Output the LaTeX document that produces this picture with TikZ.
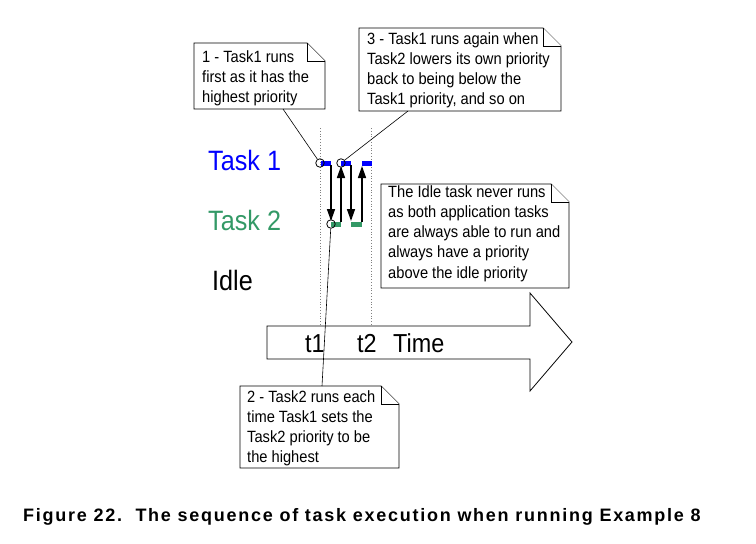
\documentclass[tikz,border=0pt]{standalone}
\usepackage{fontspec}
\setmainfont{Liberation Sans}
\newfontfamily\narrowfont[FakeStretch=0.9]{Liberation Sans}
\newfontfamily\capfont[LetterSpace=9.6]{Liberation Sans}
\usetikzlibrary{arrows.meta}
\definecolor{tblue}{RGB}{0,0,255}
\definecolor{tgreen}{RGB}{51,153,102}
\tikzset{
  note/.style={draw=black, line width=0.9pt, fill=white},
  notetext/.style={anchor=base west, align=left, inner sep=0pt, font=\narrowfont\fontsize{16.3}{20.3}\selectfont},
  bar/.style={line width=5pt},
  guide/.style={gray, dotted, line width=0.8pt},
  flow/.style={line width=1.5pt, -{Triangle[length=12pt,width=8pt]}},
  leader/.style={line width=0.6pt},
  ring/.style={circle, draw, line width=0.8pt, minimum size=8.5pt, inner sep=0pt},
  tasklabel/.style={anchor=base west, inner sep=0pt, font=\narrowfont\fontsize{28}{28}\selectfont},
  timelabel/.style={anchor=base west, inner sep=0pt, font=\narrowfont\fontsize{26}{26}\selectfont},
}
\newcommand\notebox[4]{%
  \draw[note] (#1,#2) -- ({#3-18},#2) -- (#3,{#2+18}) -- (#3,#4) -- (#1,#4) -- cycle;
  \draw[note] ({#3-18},#2) -- ({#3-18},{#2+18}) -- (#3,{#2+18});}
\begin{document}
\begin{tikzpicture}[x=1pt,y=-1pt]
\useasboundingbox (0,0) rectangle (756,544);
% guides
\coordinate (g1t) at (320,128); \coordinate (g1b) at (320,326);
\coordinate (g2t) at (371,128); \coordinate (g2b) at (371,326);
\draw[guide] (g1t) -- (g1b);
\draw[guide] (g2t) -- (g2b);
% time arrow
\draw[note, line width=0.8pt] (267,326) -- (530,326) -- (530,293) -- (572,342) -- (530,391) -- (530,359) -- (267,359) -- cycle;
\node[timelabel] (t1) at (305,352) {t1};
\node[timelabel] (t2) at (357,352) {t2};
\node[timelabel] (tm) at (393,352) {Time};
% task labels
\node[tasklabel, text=tblue] (lt1) at (208,170) {Task 1};
\node[tasklabel, text=tgreen] (lt2) at (208,230.5) {Task 2};
\node[tasklabel] (lid) at (212,290) {Idle};
% bars
\draw[bar, tblue] (321,163) -- (331,163);
\draw[bar, tblue] (341,163) -- (351,163);
\draw[bar, tblue] (362,163) -- (372,163);
\draw[bar, tgreen] (331,224) -- (341,224);
\draw[bar, tgreen] (351,224) -- (362,224);
% flow arrows
\coordinate (d1s) at (331,165); \coordinate (d1e) at (331,221);
\coordinate (u1s) at (341,222); \coordinate (u1e) at (341,166);
\coordinate (d2s) at (351,165); \coordinate (d2e) at (351,221);
\coordinate (u2s) at (362,222); \coordinate (u2e) at (362,166);
\draw[flow] (d1s) -- (d1e);
\draw[flow] (u1s) -- (u1e);
\draw[flow] (d2s) -- (d2e);
\draw[flow] (u2s) -- (u2e);
% rings
\node[ring] (c1) at (320,163) {};
\node[ring] (c2) at (341,163) {};
\node[ring] (c3) at (331,224) {};
% callout 1
\notebox{194}{43}{325}{109}
\node[notetext] (n1) at (202,102.6) {1 - Task1 runs\\first as it has the\\highest priority};
\coordinate (n1p) at (283,109);
\draw[leader] (n1p) -- (c1);
% callout 3
\notebox{359}{28}{561}{111}
\node[notetext] (n3) at (367,104.9) {3 - Task1 runs again when\\Task2 lowers its own priority\\back to being below the\\Task1 priority, and so on};
\coordinate (n3p) at (408,111);
\draw[leader] (n3p) -- (c2);
% idle callout
\notebox{381}{184}{569}{288}
\node[notetext] (ni) at (388,278.2) {The Idle task never runs\\as both application tasks\\are always able to run and\\always have a priority\\above the idle priority};
% callout 2
\notebox{240}{386}{399}{468}
\node[notetext] (n2) at (247,462.9) {2 - Task2 runs each\\time Task1 sets the\\Task2 priority to be\\the highest};
\coordinate (n2p) at (322,386);
\draw[leader] (n2p) -- (c3);
% caption
\node[anchor=base west, inner sep=0pt, font=\capfont\bfseries\fontsize{18}{18}\selectfont] (cap) at (23,521.5) {Figure 22.\ \ The sequence of task execution when running Example 8};
\end{tikzpicture}
\end{document}
